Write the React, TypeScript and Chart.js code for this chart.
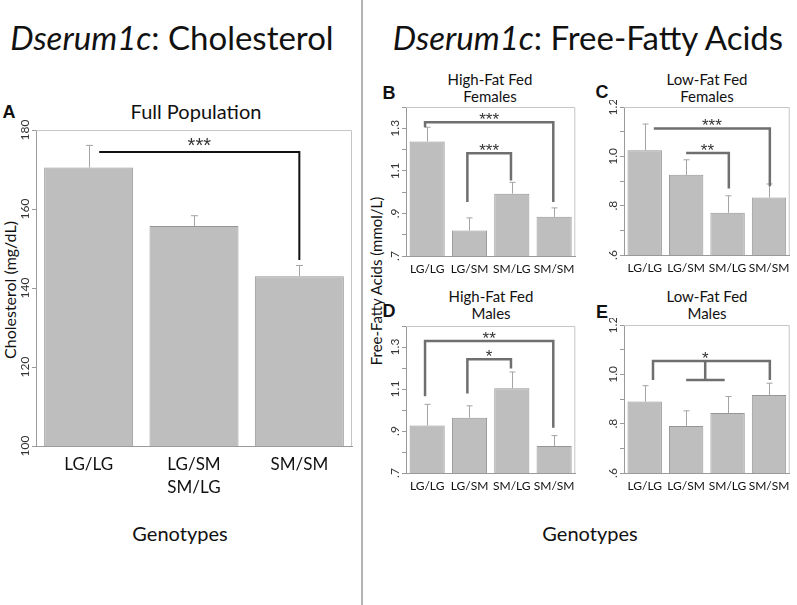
import React, { useEffect, useRef } from 'react';
import { Chart, registerables } from 'chart.js';

Chart.register(...registerables);

// ---------- data ----------
const GENOTYPES_A: (string | string[])[] = ['LG/LG', ['LG/SM', 'SM/LG'], 'SM/SM'];
const CHOL_MEANS = [170.5, 155.7, 143.0];
const CHOL_ERR = [5.6, 2.6, 2.7];
const CHOL_TICK_VALUES = [100, 120, 140, 160, 180];
const CHOL_TICK_LABELS = ['100', '120', '140', '160', '180'];

const GENOTYPES_FFA = ['LG/LG', 'LG/SM', 'SM/LG', 'SM/SM'];
const HF_FEMALE_MEANS = [1.238, 0.82, 0.993, 0.884];
const HF_FEMALE_ERR = [0.067, 0.059, 0.053, 0.042];
const LF_FEMALE_MEANS = [1.025, 0.925, 0.771, 0.833];
const LF_FEMALE_ERR = [0.106, 0.061, 0.069, 0.055];
const HF_MALE_MEANS = [0.926, 0.963, 1.103, 0.829];
const HF_MALE_ERR = [0.101, 0.057, 0.078, 0.049];
const LF_MALE_MEANS = [0.89, 0.791, 0.843, 0.916];
const LF_MALE_ERR = [0.064, 0.061, 0.067, 0.048];

const HF_TICK_VALUES = [0.7, 0.9, 1.1, 1.3];
const HF_TICK_LABELS = ['.7', '.9', '1.1', '1.3'];
const LF_TICK_VALUES = [0.6, 0.8, 1.0, 1.2];
const LF_TICK_LABELS = ['.6', '.8', '1.0', '1.2'];

type Bracket = {
  x1: number; x2: number; y: number; y1: number; y2: number; label: string;
  stemX?: number; stemY2?: number; barX1?: number; barX2?: number;
};

const BRACKETS_A: Bracket[] = [{ x1: 0.1, x2: 2, y: 174.4, y1: 174.4, y2: 147.1, label: '***' }];
const BRACKETS_B: Bracket[] = [
  { x1: -0.05, x2: 2.98, y: 1.328, y1: 1.305, y2: 0.954, label: '***' },
  { x1: 0.95, x2: 1.98, y: 1.183, y1: 0.954, y2: 1.055, label: '***' },
];
const BRACKETS_C: Bracket[] = [
  { x1: 0.22, x2: 3.02, y: 1.113, y1: 1.113, y2: 0.879, label: '***' },
  { x1: 1.0, x2: 2.03, y: 1.014, y1: 1.014, y2: 0.87, label: '**' },
];
const BRACKETS_D: Bracket[] = [
  { x1: -0.05, x2: 2.98, y: 1.328, y1: 1.066, y2: 0.916, label: '**' },
  { x1: 0.95, x2: 1.98, y: 1.242, y1: 1.079, y2: 1.198, label: '*' },
];
const BRACKETS_E: Bracket[] = [
  { x1: 0.2, x2: 3.02, y: 1.054, y1: 0.977, y2: 0.977, label: '*', stemX: 1.46, stemY2: 0.977, barX1: 1.0, barX2: 1.93 },
];

// ---------- styles ----------
const FONT = 'Lato';
const STAR_FONT = 'Liberation Sans';
const BAR_FILL = 'rgb(190,190,190)';
const BAR_EDGE = 'rgb(150,150,150)';
const AXIS = '#9a9a9a';

type PanelSpec = {
  canvas: { left: number; top: number; width: number; height: number };
  area: { l: number; t: number; r: number; b: number };
  labels: (string | string[])[];
  means: number[];
  errs: number[];
  yMin: number; yMax: number; step: number;
  tickValues: number[]; tickLabels: string[];
  brackets: Bracket[];
  bracketColor: string; bracketWidth: number;
  xFont: number; xPad: number; tickFont: number;
  barPct: number; cap: number; starFont: number; starGap: number;
};

function makeOverlay(p: PanelSpec) {
  return {
    id: 'overlay',
    afterDatasetsDraw(chart: any) {
      const ctx = chart.ctx as CanvasRenderingContext2D;
      const { chartArea } = chart;
      const xs = chart.scales.x;
      const ys = chart.scales.y;
      const meta = chart.getDatasetMeta(0);
      ctx.save();
      // box
      ctx.strokeStyle = '#c6c6c6';
      ctx.lineWidth = 1;
      ctx.beginPath();
      ctx.moveTo(chartArea.left, chartArea.top + 0.5);
      ctx.lineTo(chartArea.right - 0.5, chartArea.top + 0.5);
      ctx.lineTo(chartArea.right - 0.5, chartArea.bottom);
      ctx.stroke();
      // error bars
      ctx.strokeStyle = '#a4a4a4';
      ctx.lineWidth = 1;
      p.means.forEach((m, i) => {
        const el = meta.data[i];
        const x = Math.round(el.x) + 0.5;
        const y0 = ys.getPixelForValue(m);
        const y1 = ys.getPixelForValue(m + p.errs[i]);
        ctx.beginPath();
        ctx.moveTo(x, y0);
        ctx.lineTo(x, y1);
        ctx.moveTo(x - p.cap / 2, y1);
        ctx.lineTo(x + p.cap / 2, y1);
        ctx.stroke();
      });
      // brackets
      ctx.strokeStyle = p.bracketColor;
      ctx.lineWidth = p.bracketWidth;
      ctx.lineCap = 'butt';
      ctx.lineJoin = 'miter';
      p.brackets.forEach((br) => {
        const X1 = xs.getPixelForValue(br.x1);
        const X2 = xs.getPixelForValue(br.x2);
        const Y = ys.getPixelForValue(br.y);
        ctx.beginPath();
        ctx.moveTo(X1, ys.getPixelForValue(br.y1));
        ctx.lineTo(X1, Y);
        ctx.lineTo(X2, Y);
        ctx.lineTo(X2, ys.getPixelForValue(br.y2));
        ctx.stroke();
        let lx = (X1 + X2) / 2;
        if (br.stemX !== undefined) {
          const SX = xs.getPixelForValue(br.stemX);
          const SY = ys.getPixelForValue(br.stemY2!);
          ctx.beginPath();
          ctx.moveTo(SX, Y);
          ctx.lineTo(SX, SY);
          ctx.moveTo(xs.getPixelForValue(br.barX1!), SY);
          ctx.lineTo(xs.getPixelForValue(br.barX2!), SY);
          ctx.stroke();
          lx = SX;
        }
        ctx.fillStyle = '#333';
        ctx.font = `${p.starFont}px ${STAR_FONT}`;
        ctx.textAlign = 'center';
        ctx.textBaseline = 'alphabetic';
        ctx.fillText(br.label, lx, Y - p.starGap);
      });
      // rotated y tick labels
      ctx.fillStyle = '#333';
      ctx.font = `${p.tickFont}px ${FONT}`;
      p.tickValues.forEach((v, i) => {
        const py = ys.getPixelForValue(v);
        ctx.save();
        ctx.translate(chartArea.left - 5, py);
        ctx.rotate(-Math.PI / 2);
        ctx.textAlign = 'center';
        ctx.textBaseline = 'bottom';
        ctx.fillText(p.tickLabels[i], 0, 0);
        ctx.restore();
      });
      ctx.restore();
    },
  };
}

function Panel({ p }: { p: PanelSpec }) {
  const ref = useRef<HTMLCanvasElement>(null);
  useEffect(() => {
    const c = p.canvas;
    const padTop = p.area.t - c.top;
    const padRight = c.left + c.width - p.area.r;
    const yWidth = p.area.l - c.left;
    const xHeight = c.top + c.height - p.area.b;
    const chart = new Chart(ref.current!, {
      type: 'bar',
      data: {
        labels: p.labels as any,
        datasets: [
          {
            data: p.means,
            backgroundColor: BAR_FILL,
            borderColor: BAR_EDGE,
            borderWidth: 1,
            barPercentage: p.barPct,
            categoryPercentage: 1,
          },
        ],
      },
      options: {
        responsive: false,
        animation: false,
        events: [],
        layout: { padding: { top: padTop, right: padRight, left: 0, bottom: 0 } },
        plugins: { legend: { display: false }, tooltip: { enabled: false }, title: { display: false } },
        scales: {
          x: {
            grid: { display: false, drawTicks: false },
            border: { display: true, color: AXIS },
            ticks: {
              font: { family: FONT, size: p.xFont, lineHeight: 1.35 },
              color: '#111',
              padding: p.xPad,
              maxRotation: 0,
              minRotation: 0,
              autoSkip: false,
            },
            afterFit: (s: any) => {
              s.height = xHeight;
            },
          },
          y: {
            min: p.yMin,
            max: p.yMax,
            ticks: { display: false, stepSize: p.step },
            grid: { display: true, drawOnChartArea: false, drawTicks: true, tickLength: 4, color: AXIS },
            border: { display: true, color: AXIS },
            afterFit: (s: any) => {
              s.width = yWidth;
            },
          },
        },
      } as any,
      plugins: [makeOverlay(p)],
    });
    return () => chart.destroy();
  }, [p]);
  return (
    <canvas
      ref={ref}
      width={p.canvas.width}
      height={p.canvas.height}
      style={{ position: 'absolute', left: p.canvas.left, top: p.canvas.top, width: p.canvas.width, height: p.canvas.height }}
    />
  );
}

const SMALL = { xFont: 12, xPad: 5, tickFont: 12, barPct: 0.83, cap: 6, starFont: 17, starGap: -3, bracketColor: '#6f6f6f', bracketWidth: 2.5 };

const PANEL_A: PanelSpec = {
  canvas: { left: 0, top: 120, width: 358, height: 390 },
  area: { l: 36, t: 130, r: 352, b: 446 },
  labels: GENOTYPES_A, means: CHOL_MEANS, errs: CHOL_ERR,
  yMin: 100, yMax: 180, step: 20, tickValues: CHOL_TICK_VALUES, tickLabels: CHOL_TICK_LABELS,
  brackets: BRACKETS_A, bracketColor: '#111', bracketWidth: 2,
  xFont: 17, xPad: 7, tickFont: 12, barPct: 0.845, cap: 7, starFont: 20, starGap: 0,
};
const PANEL_B: PanelSpec = {
  ...SMALL,
  canvas: { left: 380, top: 100, width: 200, height: 185 },
  area: { l: 406, t: 107, r: 576, b: 256 },
  labels: GENOTYPES_FFA, means: HF_FEMALE_MEANS, errs: HF_FEMALE_ERR,
  yMin: 0.7, yMax: 1.4, step: 0.1, tickValues: HF_TICK_VALUES, tickLabels: HF_TICK_LABELS,
  brackets: BRACKETS_B,
};
const PANEL_C: PanelSpec = {
  ...SMALL,
  canvas: { left: 598, top: 100, width: 197, height: 185 },
  area: { l: 624, t: 107, r: 790, b: 255 },
  labels: GENOTYPES_FFA, means: LF_FEMALE_MEANS, errs: LF_FEMALE_ERR,
  yMin: 0.6, yMax: 1.2, step: 0.1, tickValues: LF_TICK_VALUES, tickLabels: LF_TICK_LABELS,
  brackets: BRACKETS_C,
};
const PANEL_D: PanelSpec = {
  ...SMALL,
  canvas: { left: 380, top: 319, width: 200, height: 184 },
  area: { l: 406, t: 326, r: 576, b: 473 },
  labels: GENOTYPES_FFA, means: HF_MALE_MEANS, errs: HF_MALE_ERR,
  yMin: 0.7, yMax: 1.4, step: 0.1, tickValues: HF_TICK_VALUES, tickLabels: HF_TICK_LABELS,
  brackets: BRACKETS_D,
};
const PANEL_E: PanelSpec = {
  ...SMALL,
  canvas: { left: 598, top: 318, width: 197, height: 185 },
  area: { l: 624, t: 325, r: 790, b: 473 },
  labels: GENOTYPES_FFA, means: LF_MALE_MEANS, errs: LF_MALE_ERR,
  yMin: 0.6, yMax: 1.2, step: 0.1, tickValues: LF_TICK_VALUES, tickLabels: LF_TICK_LABELS,
  brackets: BRACKETS_E,
};

function T({ x, y, size, children, bold, rotate, family }: any) {
  return (
    <div
      style={{
        position: 'absolute',
        left: x,
        top: y,
        transform: `translate(-50%, -50%)${rotate ? ' rotate(-90deg)' : ''}`,
        fontSize: size,
        fontFamily: family || FONT,
        fontWeight: bold ? 700 : 400,
        whiteSpace: 'nowrap',
        lineHeight: 1,
        color: '#111',
      }}
    >
      {children}
    </div>
  );
}

export default function App() {
  return (
    <div style={{ position: 'absolute', left: 0, top: 0, width: 797, height: 605, background: '#fff', overflow: 'hidden', fontFamily: FONT }}>
      <div style={{ position: 'absolute', left: 361, top: 0, width: 2, height: 605, background: '#b4b4b4' }} />
      <T x={172} y={37} size={33}><i>Dserum1c</i>: Cholesterol</T>
      <T x={588} y={37} size={33}><i>Dserum1c</i>: Free-Fatty Acids</T>

      <T x={196} y={111} size={20}>Full Population</T>
      <T x={9} y={112} size={18} bold family="Liberation Sans">A</T>
      <T x={10} y={290} size={16} rotate>Cholesterol (mg/dL)</T>
      <T x={180} y={533} size={20}>Genotypes</T>

      <T x={490} y={79} size={15}>High-Fat Fed</T>
      <T x={490} y={96} size={15}>Females</T>
      <T x={707} y={79} size={15}>Low-Fat Fed</T>
      <T x={707} y={96} size={15}>Females</T>
      <T x={491} y={296} size={15}>High-Fat Fed</T>
      <T x={491} y={313} size={15}>Males</T>
      <T x={707} y={296} size={15}>Low-Fat Fed</T>
      <T x={707} y={313} size={15}>Males</T>

      <T x={389} y={93} size={18} bold family="Liberation Sans">B</T>
      <T x={602} y={92} size={18} bold family="Liberation Sans">C</T>
      <T x={389} y={311} size={18} bold family="Liberation Sans">D</T>
      <T x={602} y={312} size={18} bold family="Liberation Sans">E</T>

      <T x={376} y={281} size={15} rotate>Free-Fatty Acids (mmol/L)</T>
      <T x={590} y={533} size={20}>Genotypes</T>

      <Panel p={PANEL_A} />
      <Panel p={PANEL_B} />
      <Panel p={PANEL_C} />
      <Panel p={PANEL_D} />
      <Panel p={PANEL_E} />
    </div>
  );
}
